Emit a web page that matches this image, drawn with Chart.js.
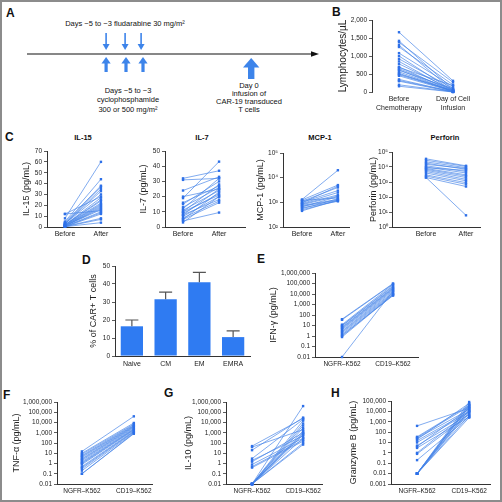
<!DOCTYPE html>
<html>
<head>
<meta charset="utf-8">
<script src="https://cdn.jsdelivr.net/npm/chart.js@4.4.1/dist/chart.umd.min.js"></script>
<style>
  html, body { margin: 0; padding: 0; background: #fff; }
  #fig { position: relative; width: 502px; height: 502px; overflow: hidden; font-family: "Liberation Sans", Arial, sans-serif; color: #111; }
  #frame { position: absolute; left: 0; top: 0; width: 502px; height: 502px; box-sizing: border-box; border: 2px solid #8c8c8c; pointer-events: none; }
  canvas { position: absolute; }
  .lbl { position: absolute; font-weight: bold; font-size: 12px; line-height: 12px; }
  .ttl { position: absolute; font-weight: bold; font-size: 7.5px; line-height: 8px; transform: translateX(-50%); white-space: nowrap; }
  svg { position: absolute; left: 0; top: 0; }
</style>
</head>
<body>
<div id="fig">
  <svg width="330" height="125" font-family="Liberation Sans, Arial, sans-serif" font-size="7.5" fill="#111">
    <text x="125" y="26" text-anchor="middle">Days −5 to −3 fludarabine 30 mg/m²</text>
    <line x1="27" y1="54" x2="313" y2="54" stroke="#111" stroke-width="1.2"/>
    <polygon points="311,51.3 319,54 311,56.7" fill="#111"/>
    <g fill="#3d84ea" stroke="none">
      <rect x="105.3" y="33" width="1.6" height="12"/><polygon points="102.6,44 109.6,44 106.1,50"/>
      <rect x="124.3" y="33" width="1.6" height="12"/><polygon points="121.6,44 128.6,44 125.1,50"/>
      <rect x="140.3" y="33" width="1.6" height="12"/><polygon points="137.6,44 144.6,44 141.1,50"/>
      <rect x="104.5" y="63" width="3.2" height="9"/><polygon points="101.5,63.5 110.7,63.5 106.1,57"/>
      <rect x="124.4" y="63" width="3.2" height="9"/><polygon points="121.4,63.5 130.6,63.5 126,57"/>
      <rect x="141.4" y="63" width="3.2" height="9"/><polygon points="138.4,63.5 147.6,63.5 143,57"/>
      <rect x="248" y="67" width="6.4" height="12"/><polygon points="243,67.5 259.4,67.5 251.2,58"/>
    </g>
    <text x="128" y="93" text-anchor="middle">Days −5 to −3</text>
    <text x="128" y="102" text-anchor="middle">cyclophosphamide</text>
    <text x="128" y="112" text-anchor="middle">300 or 500 mg/m²</text>
    <text x="249" y="88" text-anchor="middle">Day 0</text>
    <text x="249" y="96" text-anchor="middle">infusion of</text>
    <text x="249" y="104" text-anchor="middle">CAR-19 transduced</text>
    <text x="249" y="112" text-anchor="middle">T cells</text>
  </svg>

  <div class="lbl" style="left:6px;top:7px">A</div>
  <div class="lbl" style="left:332px;top:6px">B</div>
  <div class="lbl" style="left:5px;top:131px">C</div>
  <div class="lbl" style="left:82px;top:254px">D</div>
  <div class="lbl" style="left:257px;top:253px">E</div>
  <div class="lbl" style="left:3px;top:389px">F</div>
  <div class="lbl" style="left:164px;top:387px">G</div>
  <div class="lbl" style="left:331px;top:387px">H</div>

  <div class="ttl" style="left:83px;top:134px">IL-15</div>
  <div class="ttl" style="left:202px;top:134px">IL-7</div>
  <div class="ttl" style="left:320px;top:134px">MCP-1</div>
  <div class="ttl" style="left:445px;top:134px">Perforin</div>

  <canvas id="cB"></canvas>
  <canvas id="cIL15"></canvas>
  <canvas id="cIL7"></canvas>
  <canvas id="cMCP"></canvas>
  <canvas id="cPerf"></canvas>
  <canvas id="cD"></canvas>
  <canvas id="cE"></canvas>
  <canvas id="cF"></canvas>
  <canvas id="cG"></canvas>
  <canvas id="cH"></canvas>
  <div id="frame"></div>
</div>

<script>
// ---- data ----
const lymphCats = [['Before', 'Chemotherapy'], ['Day of Cell', 'Infusion']];
const lymphBefore = [1660, 1420, 1380, 1300, 1250, 1080, 1000, 920, 850, 780, 700, 680, 650, 620, 600, 560, 520, 500, 480, 450, 350, 320, 300, 200, 160];
const lymphAfter = [310, 80, 270, 40, 200, 150, 30, 100, 20, 60, 10, 180, 50, 5, 90, 20, 10, 40, 30, 15, 5, 10, 0, 5, 0];

const serumCats = ['Before', 'After'];
const il15Before = [12, 12, 8, 5, 4, 4, 3, 3, 3, 2, 2, 2, 2, 1.5, 1.5, 1, 1, 1, 1, 0.5, 0.5, 0.5, 0.3, 0.3, 0.2];
const il15After = [28, 15, 60, 44, 38, 37, 35, 33, 30, 27, 25, 24, 22, 21, 20, 19, 18, 17, 16, 14, 13, 8, 7, 4, 12];
const il7Before = [32, 31, 24, 20, 19, 16, 15, 13, 12, 11, 10, 10, 9, 8, 8, 7, 6, 5, 5, 4, 3];
const il7After = [37, 32, 33, 25, 43, 27, 30, 26, 32, 24, 21, 28, 22, 25, 18, 20, 17, 23, 16, 9.5, 20];
const mcpBefore = [1300, 1250, 1200, 1100, 1000, 950, 900, 850, 800, 750, 700, 650, 600, 550, 500, 450];
const mcpAfter = [20000, 5000, 1500, 4000, 3000, 4500, 2500, 2000, 1800, 1300, 1200, 1700, 1100, 1400, 1150, 1250];
const perfBefore = [35000, 28000, 22000, 18000, 15000, 12000, 10000, 9000, 8000, 7000, 6000, 5000, 4000, 3000, 2500, 2000, 2000];
const perfAfter = [12000, 11000, 9000, 7000, 8000, 5000, 4000, 6000, 3000, 2500, 2000, 1500, 1200, 900, 700, 500, 6];

const subsetCats = ['Naive', 'CM', 'EM', 'EMRA'];
const subsetMean = [16.5, 31.5, 41, 10.5];
const subsetSem = [3.5, 4, 5.5, 3.5];

const targetCats = ['NGFR\u2013K562', 'CD19\u2013K562'];
const ifnNgfr = [40, 35, 12, 10, 9, 7, 6, 5, 4, 3, 2.5, 2, 1.5, 1.2, 1, 0.8, 0.01];
const ifnCd19 = [100000, 90000, 80000, 60000, 50000, 40000, 35000, 30000, 25000, 20000, 15000, 12000, 10000, 7000, 9000, 8000, 20000];
const tnfNgfr = [15, 10, 8, 6, 5, 4, 3, 2.5, 2, 1.5, 1.2, 1, 0.8, 0.5, 0.4, 0.3, 0.2, 0.1, 0.1];
const tnfCd19 = [40000, 9000, 7000, 6000, 5000, 4500, 4000, 3500, 3000, 2500, 2200, 2000, 1800, 1500, 1300, 1200, 1000, 900, 800];
const il10Ngfr = [50, 20, 40, 3, 2, 1.5, 0.8, 0.5, 0.4, 0.01, 0.01, 0.01, 0.01, 0.01, 0.01, 0.01, 0.01, 0.01, 0.01, 0.01, 0.01];
const il10Cd19 = [25000, 30000, 2000, 20000, 500, 1000, 300, 200, 150, 400000, 15000, 8000, 5000, 3000, 1500, 1000, 800, 600, 300, 100, 70];
const gzbNgfr = [400, 35, 30, 25, 20, 15, 10, 5, 4, 3, 1, 0.8, 0.2, 0.01, 0.01, 0.01, 0.01, 0.01, 0.01, 0.01, 0.01, 0.01, 0.01];
const gzbCd19 = [20000, 40000, 30000, 15000, 60000, 10000, 8000, 5000, 20000, 3000, 10000, 5000, 3000, 80000, 50000, 40000, 30000, 25000, 15000, 12000, 8000, 4000, 2500];

const decadesE = [1e6, 1e5, 1e4, 1e3, 100, 10, 1, 0.1, 0.01];
const decadesH = [1e5, 1e4, 1e3, 100, 10, 1, 0.1, 0.01, 0.001];

// ---- styling ----
const FONT = 'Liberation Sans';
const LINE = 'rgba(70,132,232,0.85)';
const DOT = 'rgb(46,112,232)';
const BAR = '#2f7bf2';
const AXIS = '#333';
const SUP = ['\u2070', '\u00b9', '\u00b2', '\u00b3', '\u2074', '\u2075'];

const fmtComma = v => v >= 1 ? v.toLocaleString('en-US') : String(v);
const fmtPow = v => '10' + SUP[Math.round(Math.log10(v))];

// box: x0,x1,y0,y1 = plot area in page px, yw = room left of the axis, xh = room under it
function paired(id, box, before, after, o) {
  const padTop = 8, padRight = 6;
  const canvas = document.getElementById(id);
  canvas.width = box.x1 - box.x0 + box.yw + padRight;
  canvas.height = box.y1 - box.y0 + padTop + box.xh;
  canvas.style.left = (box.x0 - box.yw) + 'px';
  canvas.style.top = (box.y0 - padTop) + 'px';

  const datasets = before.map((v, i) => ({
    data: [{ x: 1, y: v }, { x: 2, y: after[i] }],
    borderColor: LINE,
    borderWidth: 0.8,
    pointStyle: 'rect',
    pointRadius: 1.7,
    pointBackgroundColor: DOT,
    pointBorderWidth: 0,
    clip: false
  }));

  return new Chart(canvas, {
    type: 'line',
    data: { datasets },
    options: {
      responsive: false,
      animation: false,
      events: [],
      layout: { padding: { top: padTop, right: padRight, left: 0, bottom: 0 } },
      plugins: { legend: { display: false }, tooltip: { enabled: false } },
      scales: {
        x: {
          type: 'linear',
          min: box.xmin, max: box.xmax,
          afterFit: s => { s.height = box.xh; },
          afterBuildTicks: s => { s.ticks = [{ value: 1 }, { value: 2 }]; },
          ticks: { callback: v => o.cats[Math.round(v) - 1], font: { family: FONT, size: o.xFont || 7 }, color: '#222', padding: 3, maxRotation: 0, autoSkip: false },
          grid: { display: false, drawTicks: false },
          border: { display: o.xLine !== false, color: AXIS, width: 1 }
        },
        y: {
          type: o.log ? 'logarithmic' : 'linear',
          min: o.ticks[o.ticks.length - 1], max: o.ticks[0],
          afterFit: s => { s.width = box.yw; },
          afterBuildTicks: s => { s.ticks = o.ticks.map(v => ({ value: v })); },
          ticks: { callback: o.fmt, font: { family: FONT, size: 6.5 }, color: '#222', padding: o.tickPad || 2, autoSkip: false },
          grid: { drawOnChartArea: false, tickLength: 3, color: AXIS, lineWidth: 0.8 },
          border: { display: true, color: AXIS, width: 1 },
          title: { display: true, text: o.title, font: { family: FONT, size: o.titleSize || 9 }, color: '#222', padding: 0 }
        }
      }
    }
  });
}

// B
paired('cB', { x0: 372, x1: 480, y0: 20, y1: 92, yw: 35, xh: 24, xmin: 0.5, xmax: 2.5 },
  lymphBefore, lymphAfter,
  { cats: lymphCats, ticks: [2000, 1500, 1000, 500, 0], fmt: fmtComma, title: 'Lymphocytes/\u00b5L', titleSize: 10, xLine: false });

// C
paired('cIL15', { x0: 47, x1: 120, y0: 151, y1: 227, yw: 26, xh: 14, xmin: 0.5, xmax: 2.53 },
  il15Before, il15After,
  { cats: serumCats, ticks: [70, 60, 50, 40, 30, 20, 10, 0], fmt: v => String(v), title: 'IL-15 (pg/mL)' });
paired('cIL7', { x0: 165, x1: 245, y0: 151, y1: 227, yw: 27, xh: 14, xmin: 0.5, xmax: 2.72 },
  il7Before, il7After,
  { cats: serumCats, ticks: [50, 40, 30, 20, 10, 0], fmt: v => String(v), title: 'IL-7 (pg/mL)' });
paired('cMCP', { x0: 283, x1: 349, y0: 153, y1: 227, yw: 28, xh: 14, xmin: 0.47, xmax: 2.31 },
  mcpBefore, mcpAfter,
  { cats: serumCats, log: true, ticks: [1e5, 1e4, 1e3, 1e2], fmt: fmtPow, title: 'MCP-1 (pg/mL)' });
paired('cPerf', { x0: 392, x1: 480, y0: 152, y1: 227, yw: 24, xh: 14, xmin: 0.15, xmax: 2.35 },
  perfBefore, perfAfter,
  { cats: serumCats, log: true, ticks: [1e5, 1e4, 1e3, 1e2, 10, 1], fmt: fmtPow, title: 'Perforin (pg/mL)', tickPad: 1 });

// E - H
paired('cE', { x0: 315, x1: 418, y0: 273, y1: 357, yw: 47, xh: 16, xmin: 0.47, xmax: 2.49 },
  ifnNgfr, ifnCd19,
  { cats: targetCats, log: true, ticks: decadesE, fmt: fmtComma, title: 'IFN-\u03b3 (pg/mL)', xFont: 6.5 });
paired('cF', { x0: 57, x1: 152, y0: 402, y1: 484, yw: 46, xh: 14, xmin: 0.52, xmax: 2.35 },
  tnfNgfr, tnfCd19,
  { cats: targetCats, log: true, ticks: decadesE, fmt: fmtComma, title: 'TNF-\u03b1 (pg/mL)', xFont: 6.5 });
paired('cG', { x0: 226, x1: 322, y0: 402, y1: 484, yw: 43, xh: 14, xmin: 0.49, xmax: 2.37 },
  il10Ngfr, il10Cd19,
  { cats: targetCats, log: true, ticks: decadesE, fmt: fmtComma, title: 'IL-10 (pg/mL)', xFont: 6.5 });
paired('cH', { x0: 391, x1: 490, y0: 401, y1: 484, yw: 43, xh: 14, xmin: 0.5, xmax: 2.4 },
  gzbNgfr, gzbCd19,
  { cats: targetCats, log: true, ticks: decadesH, fmt: fmtComma, title: 'Granzyme B (pg/mL)', xFont: 6.5 });

// D - bar chart with SEM caps
const errorBars = {
  id: 'errorBars',
  afterDatasetsDraw(chart) {
    const { ctx, scales: { y } } = chart;
    const meta = chart.getDatasetMeta(0);
    ctx.save();
    ctx.strokeStyle = '#555';
    ctx.lineWidth = 1.2;
    meta.data.forEach((bar, i) => {
      const top = y.getPixelForValue(subsetMean[i] + subsetSem[i]);
      ctx.beginPath();
      ctx.moveTo(bar.x, bar.y);
      ctx.lineTo(bar.x, top);
      ctx.moveTo(bar.x - 6.5, top);
      ctx.lineTo(bar.x + 6.5, top);
      ctx.stroke();
    });
    ctx.restore();
  }
};

(function () {
  const box = { x0: 115, x1: 250, y0: 266, y1: 356, yw: 27, xh: 15 };
  const padTop = 8, padRight = 6;
  const canvas = document.getElementById('cD');
  canvas.width = box.x1 - box.x0 + box.yw + padRight;
  canvas.height = box.y1 - box.y0 + padTop + box.xh;
  canvas.style.left = (box.x0 - box.yw) + 'px';
  canvas.style.top = (box.y0 - padTop) + 'px';
  new Chart(canvas, {
    type: 'bar',
    data: {
      labels: subsetCats,
      datasets: [{ data: subsetMean, backgroundColor: BAR, barPercentage: 0.66, categoryPercentage: 1 }]
    },
    plugins: [errorBars],
    options: {
      responsive: false,
      animation: false,
      events: [],
      layout: { padding: { top: padTop, right: padRight, left: 0, bottom: 0 } },
      plugins: { legend: { display: false }, tooltip: { enabled: false } },
      scales: {
        x: {
          afterFit: s => { s.height = box.xh; },
          ticks: { font: { family: FONT, size: 7 }, color: '#222', padding: 4 },
          grid: { display: false, drawTicks: false },
          border: { display: true, color: AXIS, width: 1 }
        },
        y: {
          min: 0, max: 50,
          afterFit: s => { s.width = box.yw; },
          ticks: { stepSize: 10, font: { family: FONT, size: 6.5 }, color: '#222', padding: 2 },
          grid: { drawOnChartArea: false, tickLength: 3, color: AXIS, lineWidth: 0.8 },
          border: { display: true, color: AXIS, width: 1 },
          title: { display: true, text: '% of CAR+ T cells', font: { family: FONT, size: 9 }, color: '#222', padding: 0 }
        }
      }
    }
  });
})();
</script>
</body>
</html>
